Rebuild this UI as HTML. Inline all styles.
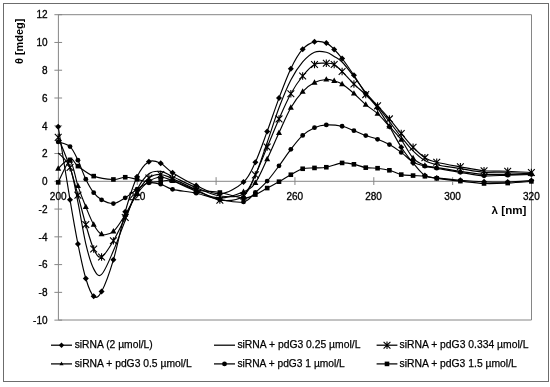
<!DOCTYPE html>
<html><head><meta charset="utf-8"><style>
html,body{margin:0;padding:0;background:#fff;width:550px;height:387px;overflow:hidden;}
svg{display:block;will-change:transform;}
.ast{fill:none;stroke:#000;stroke-width:1.1;}
text{font-family:"Liberation Sans",sans-serif;}
</style></head><body>
<svg width="550" height="387" viewBox="0 0 550 387">
<rect x="3.5" y="3.5" width="545" height="378" fill="#fff" stroke="#6c6c6c" stroke-width="1"/>
<path d="M58.4 14.7H531.5V320.0H58.4Z" fill="none" stroke="#868686" stroke-width="1"/>
<path d="M58.4 181.3H531.5" stroke="#868686" stroke-width="1"/>
<path d="M54.4 320.14H62.1" stroke="#868686" stroke-width="1"/>
<path d="M54.4 292.37H62.1" stroke="#868686" stroke-width="1"/>
<path d="M54.4 264.60H62.1" stroke="#868686" stroke-width="1"/>
<path d="M54.4 236.84H62.1" stroke="#868686" stroke-width="1"/>
<path d="M54.4 209.07H62.1" stroke="#868686" stroke-width="1"/>
<path d="M54.4 181.30H62.1" stroke="#868686" stroke-width="1"/>
<path d="M54.4 153.53H62.1" stroke="#868686" stroke-width="1"/>
<path d="M54.4 125.76H62.1" stroke="#868686" stroke-width="1"/>
<path d="M54.4 98.00H62.1" stroke="#868686" stroke-width="1"/>
<path d="M54.4 70.23H62.1" stroke="#868686" stroke-width="1"/>
<path d="M54.4 42.46H62.1" stroke="#868686" stroke-width="1"/>
<path d="M54.4 14.69H62.1" stroke="#868686" stroke-width="1"/>
<path d="M58.40 177.2V185" stroke="#868686" stroke-width="1"/>
<path d="M137.25 177.2V185" stroke="#868686" stroke-width="1"/>
<path d="M216.10 177.2V185" stroke="#868686" stroke-width="1"/>
<path d="M294.95 177.2V185" stroke="#868686" stroke-width="1"/>
<path d="M373.80 177.2V185" stroke="#868686" stroke-width="1"/>
<path d="M452.65 177.2V185" stroke="#868686" stroke-width="1"/>
<path d="M531.50 177.2V185" stroke="#868686" stroke-width="1"/>
<g font-size="10" fill="#000" stroke="#000" stroke-width="0.3"><text x="47.5" y="323.9" text-anchor="end">-10</text><text x="47.5" y="296.1" text-anchor="end">-8</text><text x="47.5" y="268.3" text-anchor="end">-6</text><text x="47.5" y="240.5" text-anchor="end">-4</text><text x="47.5" y="212.8" text-anchor="end">-2</text><text x="47.5" y="185.0" text-anchor="end">0</text><text x="47.5" y="157.2" text-anchor="end">2</text><text x="47.5" y="129.5" text-anchor="end">4</text><text x="47.5" y="101.7" text-anchor="end">6</text><text x="47.5" y="73.9" text-anchor="end">8</text><text x="47.5" y="46.1" text-anchor="end">10</text><text x="47.5" y="18.4" text-anchor="end">12</text><text x="58.2" y="199.5" text-anchor="middle">200</text><text x="137.1" y="199.5" text-anchor="middle">220</text><text x="294.8" y="199.5" text-anchor="middle">260</text><text x="373.6" y="199.5" text-anchor="middle">280</text><text x="452.5" y="199.5" text-anchor="middle">300</text><text x="531.4" y="199.5" text-anchor="middle">320</text></g>
<text x="491.6" y="213.6" font-weight="bold" font-size="11" textLength="34.8" lengthAdjust="spacingAndGlyphs">λ [nm]</text>
<text transform="translate(22.8 64) rotate(-90)" font-weight="bold" font-size="11" textLength="45.4" lengthAdjust="spacingAndGlyphs">θ [mdeg]</text>
<path d="M58.20 126.69 C60.17 138.89 66.74 180.34 70.03 199.87 C73.31 219.40 75.29 230.79 77.92 243.89 C80.54 256.99 83.17 269.74 85.80 278.46 C88.43 287.19 91.06 294.06 93.69 296.24 C96.32 298.41 98.29 297.58 101.57 291.52 C104.86 285.45 109.46 273.14 113.40 259.86 C117.34 246.57 121.29 225.65 125.23 211.81 C129.17 197.97 133.12 185.17 137.06 176.82 C141.00 168.46 144.95 163.93 148.89 161.68 C152.83 159.44 156.78 161.52 160.72 163.35 C164.66 165.18 166.63 168.95 172.55 172.65 C178.46 176.35 188.32 182.02 196.20 185.57 C204.09 189.11 211.98 194.48 219.86 193.90 C227.75 193.32 237.61 187.37 243.52 182.09 C249.44 176.82 251.41 170.68 255.35 162.24 C259.29 153.79 263.24 142.10 267.18 131.41 C271.12 120.72 275.06 108.54 279.01 98.08 C282.95 87.62 286.89 76.79 290.84 68.65 C294.78 60.50 298.72 53.67 302.67 49.21 C306.61 44.74 310.55 42.86 314.50 41.85 C318.44 40.83 323.04 41.82 326.32 43.10 C329.61 44.37 331.58 46.91 334.21 49.48 C336.84 52.05 338.81 54.20 342.10 58.51 C345.38 62.81 349.98 69.43 353.93 75.31 C357.87 81.19 361.81 88.32 365.75 93.78 C369.70 99.24 373.64 102.62 377.58 108.08 C381.53 113.54 385.47 120.02 389.41 126.55 C393.35 133.08 397.30 141.18 401.24 147.24 C405.18 153.30 409.13 158.21 413.07 162.93 C417.01 167.65 420.96 173.07 424.90 175.57 C428.84 178.07 430.81 177.14 436.73 177.93 C442.64 178.72 452.50 179.64 460.39 180.29 C468.27 180.94 476.16 181.52 484.04 181.82 C491.93 182.12 499.82 182.30 507.70 182.09 C515.59 181.89 527.42 180.82 531.36 180.57" fill="none" stroke="#000" stroke-width="1.15"/>
<path d="M58.20 152.79 C60.17 155.25 66.74 159.27 70.03 167.51 C73.31 175.75 75.29 189.50 77.92 202.23 C80.54 214.96 83.17 232.78 85.80 243.89 C88.43 255.00 91.06 263.79 93.69 268.88 C96.32 273.97 98.29 277.44 101.57 274.44 C104.86 271.43 109.46 259.86 113.40 250.83 C117.34 241.80 121.29 230.46 125.23 220.28 C129.17 210.10 133.12 197.48 137.06 189.73 C141.00 181.98 144.95 176.82 148.89 173.76 C152.83 170.71 156.78 170.94 160.72 171.40 C164.66 171.86 166.63 173.83 172.55 176.54 C178.46 179.25 188.32 184.41 196.20 187.65 C204.09 190.89 211.98 194.94 219.86 195.98 C227.75 197.02 237.61 197.37 243.52 193.90 C249.44 190.43 251.41 183.71 255.35 175.15 C259.29 166.59 263.24 153.74 267.18 142.52 C271.12 131.29 275.06 118.22 279.01 107.80 C282.95 97.39 286.89 87.67 290.84 80.03 C294.78 72.39 298.72 66.61 302.67 61.98 C306.61 57.35 310.55 53.88 314.50 52.26 C318.44 50.64 323.04 51.57 326.32 52.26 C329.61 52.95 331.58 54.81 334.21 56.43 C336.84 58.05 338.81 58.62 342.10 61.98 C345.38 65.34 349.98 71.47 353.93 76.56 C357.87 81.65 361.81 87.55 365.75 92.53 C369.70 97.51 373.64 101.56 377.58 106.42 C381.53 111.28 385.47 116.60 389.41 121.69 C393.35 126.78 397.30 132.10 401.24 136.96 C405.18 141.82 409.13 146.92 413.07 150.85 C417.01 154.79 420.96 158.26 424.90 160.57 C428.84 162.89 430.81 163.39 436.73 164.74 C442.64 166.08 452.50 167.35 460.39 168.62 C468.27 169.90 476.16 171.68 484.04 172.37 C491.93 173.07 499.82 172.56 507.70 172.79 C515.59 173.02 527.42 173.60 531.36 173.76" fill="none" stroke="#000" stroke-width="1.15"/>
<path d="M58.20 137.38 C60.17 142.40 66.74 157.89 70.03 167.51 C73.31 177.14 75.29 185.64 77.92 195.15 C80.54 204.66 83.17 215.61 85.80 224.59 C88.43 233.57 91.06 243.63 93.69 249.02 C96.32 254.42 98.29 258.31 101.57 256.94 C104.86 255.57 109.46 247.40 113.40 240.83 C117.34 234.26 121.29 225.56 125.23 217.50 C129.17 209.45 133.12 199.10 137.06 192.51 C141.00 185.91 144.95 180.94 148.89 177.93 C152.83 174.92 156.78 174.34 160.72 174.46 C164.66 174.57 166.63 176.08 172.55 178.62 C178.46 181.17 188.32 186.14 196.20 189.73 C204.09 193.32 211.98 199.10 219.86 200.15 C227.75 201.19 237.61 200.19 243.52 195.98 C249.44 191.77 251.41 183.02 255.35 174.87 C259.29 166.73 263.24 156.43 267.18 147.10 C271.12 137.77 275.06 127.80 279.01 118.91 C282.95 110.03 286.89 100.93 290.84 93.78 C294.78 86.63 298.72 80.89 302.67 76.01 C306.61 71.12 310.55 66.61 314.50 64.48 C318.44 62.35 323.04 63.23 326.32 63.23 C329.61 63.23 331.58 63.09 334.21 64.48 C336.84 65.87 338.81 68.30 342.10 71.56 C345.38 74.82 349.98 80.22 353.93 84.06 C357.87 87.90 361.81 90.98 365.75 94.61 C369.70 98.25 373.64 101.81 377.58 105.86 C381.53 109.91 385.47 114.31 389.41 118.91 C393.35 123.52 397.30 128.77 401.24 133.49 C405.18 138.21 409.13 143.21 413.07 147.24 C417.01 151.27 420.96 155.16 424.90 157.65 C428.84 160.15 430.81 160.71 436.73 162.24 C442.64 163.76 452.50 165.41 460.39 166.82 C468.27 168.23 476.16 169.97 484.04 170.71 C491.93 171.45 499.82 170.96 507.70 171.26 C515.59 171.56 527.42 172.30 531.36 172.51" fill="none" stroke="#000" stroke-width="1.15"/>
<path d="M58.20 168.62 C60.17 167.28 66.74 157.70 70.03 160.57 C73.31 163.44 75.29 178.14 77.92 185.84 C80.54 193.55 83.17 200.35 85.80 206.81 C88.43 213.27 91.06 220.03 93.69 224.59 C96.32 229.14 98.29 233.03 101.57 234.17 C104.86 235.30 109.46 234.63 113.40 231.39 C117.34 228.15 121.29 220.98 125.23 214.73 C129.17 208.48 133.12 199.45 137.06 193.90 C141.00 188.34 144.95 184.18 148.89 181.40 C152.83 178.62 156.78 177.35 160.72 177.23 C164.66 177.12 166.63 178.39 172.55 180.71 C178.46 183.02 188.32 188.23 196.20 191.12 C204.09 194.01 211.98 197.95 219.86 198.06 C227.75 198.18 237.61 194.36 243.52 191.81 C249.44 189.27 251.41 188.25 255.35 182.79 C259.29 177.33 263.24 167.38 267.18 159.04 C271.12 150.71 275.06 141.36 279.01 132.80 C282.95 124.24 286.89 114.54 290.84 107.67 C294.78 100.79 298.72 95.75 302.67 91.56 C306.61 87.37 310.55 84.55 314.50 82.53 C318.44 80.52 323.04 79.75 326.32 79.48 C329.61 79.20 331.58 80.10 334.21 80.87 C336.84 81.63 338.81 81.95 342.10 84.06 C345.38 86.17 349.98 90.08 353.93 93.50 C357.87 96.93 361.81 101.25 365.75 104.61 C369.70 107.97 373.64 110.00 377.58 113.64 C381.53 117.27 385.47 122.06 389.41 126.41 C393.35 130.76 397.30 134.47 401.24 139.74 C405.18 145.02 409.13 153.79 413.07 158.07 C417.01 162.35 420.96 163.86 424.90 165.43 C428.84 167.00 430.81 166.52 436.73 167.51 C442.64 168.51 452.50 170.24 460.39 171.40 C468.27 172.56 476.16 173.95 484.04 174.46 C491.93 174.97 499.82 174.57 507.70 174.46 C515.59 174.34 527.42 173.88 531.36 173.76" fill="none" stroke="#000" stroke-width="1.15"/>
<path d="M58.20 141.96 C60.17 142.73 66.74 143.51 70.03 146.55 C73.31 149.58 75.29 154.72 77.92 160.15 C80.54 165.59 83.17 173.76 85.80 179.18 C88.43 184.59 91.06 189.20 93.69 192.65 C96.32 196.10 98.29 198.04 101.57 199.87 C104.86 201.70 109.46 203.96 113.40 203.62 C117.34 203.27 121.29 200.19 125.23 197.79 C129.17 195.38 133.12 191.68 137.06 189.18 C141.00 186.68 144.95 183.62 148.89 182.79 C152.83 181.96 156.78 183.09 160.72 184.18 C164.66 185.26 166.63 187.81 172.55 189.32 C178.46 190.82 188.32 191.51 196.20 193.20 C204.09 194.89 211.98 197.99 219.86 199.45 C227.75 200.91 237.61 203.11 243.52 201.95 C249.44 200.79 251.41 195.98 255.35 192.51 C259.29 189.04 263.24 185.57 267.18 181.12 C271.12 176.68 275.06 171.15 279.01 165.85 C282.95 160.55 286.89 154.39 290.84 149.32 C294.78 144.25 298.72 139.05 302.67 135.44 C306.61 131.83 310.55 129.42 314.50 127.66 C318.44 125.90 321.72 125.12 326.32 124.88 C330.92 124.65 337.50 125.30 342.10 126.27 C346.70 127.24 349.98 129.17 353.93 130.72 C357.87 132.27 361.81 134.14 365.75 135.58 C369.70 137.01 373.64 137.82 377.58 139.33 C381.53 140.83 385.47 142.43 389.41 144.60 C393.35 146.78 397.30 149.49 401.24 152.38 C405.18 155.27 409.13 159.67 413.07 161.96 C417.01 164.25 420.96 165.08 424.90 166.13 C428.84 167.17 430.81 167.17 436.73 168.21 C442.64 169.25 452.50 171.10 460.39 172.37 C468.27 173.65 476.16 175.38 484.04 175.85 C491.93 176.31 499.82 175.38 507.70 175.15 C515.59 174.92 527.42 174.57 531.36 174.46" fill="none" stroke="#000" stroke-width="1.15"/>
<path d="M58.20 182.37 C60.17 178.62 66.74 162.58 70.03 159.88 C73.31 157.17 73.97 163.42 77.92 166.13 C81.86 168.83 87.77 173.90 93.69 176.12 C99.60 178.35 108.14 179.27 113.40 179.46 C118.66 179.64 121.29 177.26 125.23 177.23 C129.17 177.21 133.12 178.51 137.06 179.32 C141.00 180.13 144.95 181.75 148.89 182.09 C152.83 182.44 156.78 181.63 160.72 181.40 C164.66 181.17 166.63 179.32 172.55 180.71 C178.46 182.09 188.32 187.76 196.20 189.73 C204.09 191.70 211.98 191.12 219.86 192.51 C227.75 193.90 237.61 197.72 243.52 198.06 C249.44 198.41 251.41 196.26 255.35 194.59 C259.29 192.93 263.24 190.22 267.18 188.07 C271.12 185.91 275.06 183.90 279.01 181.68 C282.95 179.46 286.89 176.89 290.84 174.73 C294.78 172.58 298.72 169.90 302.67 168.76 C306.61 167.63 310.55 168.19 314.50 167.93 C318.44 167.68 321.72 168.07 326.32 167.24 C330.92 166.40 337.50 163.42 342.10 162.93 C346.70 162.45 349.98 163.53 353.93 164.32 C357.87 165.11 361.81 167.00 365.75 167.65 C369.70 168.30 373.64 167.77 377.58 168.21 C381.53 168.65 385.47 169.23 389.41 170.29 C393.35 171.36 397.30 173.72 401.24 174.60 C405.18 175.48 409.13 175.29 413.07 175.57 C417.01 175.85 420.96 175.80 424.90 176.26 C428.84 176.73 430.81 177.54 436.73 178.35 C442.64 179.16 452.50 180.27 460.39 181.12 C468.27 181.98 476.16 183.16 484.04 183.48 C491.93 183.81 499.82 183.41 507.70 183.07 C515.59 182.72 527.42 181.68 531.36 181.40" fill="none" stroke="#000" stroke-width="1.15"/>
<g><path d="M58.20 123.69l3.0 3.0l-3.0 3.0l-3.0 -3.0z"/><path d="M70.03 196.87l3.0 3.0l-3.0 3.0l-3.0 -3.0z"/><path d="M77.92 240.89l3.0 3.0l-3.0 3.0l-3.0 -3.0z"/><path d="M85.80 275.46l3.0 3.0l-3.0 3.0l-3.0 -3.0z"/><path d="M93.69 293.24l3.0 3.0l-3.0 3.0l-3.0 -3.0z"/><path d="M101.57 288.52l3.0 3.0l-3.0 3.0l-3.0 -3.0z"/><path d="M113.40 256.86l3.0 3.0l-3.0 3.0l-3.0 -3.0z"/><path d="M125.23 208.81l3.0 3.0l-3.0 3.0l-3.0 -3.0z"/><path d="M137.06 173.82l3.0 3.0l-3.0 3.0l-3.0 -3.0z"/><path d="M148.89 158.68l3.0 3.0l-3.0 3.0l-3.0 -3.0z"/><path d="M160.72 160.35l3.0 3.0l-3.0 3.0l-3.0 -3.0z"/><path d="M172.55 169.65l3.0 3.0l-3.0 3.0l-3.0 -3.0z"/><path d="M196.20 182.57l3.0 3.0l-3.0 3.0l-3.0 -3.0z"/><path d="M219.86 190.90l3.0 3.0l-3.0 3.0l-3.0 -3.0z"/><path d="M243.52 179.09l3.0 3.0l-3.0 3.0l-3.0 -3.0z"/><path d="M255.35 159.24l3.0 3.0l-3.0 3.0l-3.0 -3.0z"/><path d="M267.18 128.41l3.0 3.0l-3.0 3.0l-3.0 -3.0z"/><path d="M279.01 95.08l3.0 3.0l-3.0 3.0l-3.0 -3.0z"/><path d="M290.84 65.65l3.0 3.0l-3.0 3.0l-3.0 -3.0z"/><path d="M302.67 46.21l3.0 3.0l-3.0 3.0l-3.0 -3.0z"/><path d="M314.50 38.85l3.0 3.0l-3.0 3.0l-3.0 -3.0z"/><path d="M326.32 40.10l3.0 3.0l-3.0 3.0l-3.0 -3.0z"/><path d="M334.21 46.48l3.0 3.0l-3.0 3.0l-3.0 -3.0z"/><path d="M342.10 55.51l3.0 3.0l-3.0 3.0l-3.0 -3.0z"/><path d="M353.93 72.31l3.0 3.0l-3.0 3.0l-3.0 -3.0z"/><path d="M365.75 90.78l3.0 3.0l-3.0 3.0l-3.0 -3.0z"/><path d="M377.58 105.08l3.0 3.0l-3.0 3.0l-3.0 -3.0z"/><path d="M389.41 123.55l3.0 3.0l-3.0 3.0l-3.0 -3.0z"/><path d="M401.24 144.24l3.0 3.0l-3.0 3.0l-3.0 -3.0z"/><path d="M413.07 159.93l3.0 3.0l-3.0 3.0l-3.0 -3.0z"/><path d="M424.90 172.57l3.0 3.0l-3.0 3.0l-3.0 -3.0z"/><path d="M436.73 174.93l3.0 3.0l-3.0 3.0l-3.0 -3.0z"/><path d="M460.39 177.29l3.0 3.0l-3.0 3.0l-3.0 -3.0z"/><path d="M484.04 178.82l3.0 3.0l-3.0 3.0l-3.0 -3.0z"/><path d="M507.70 179.09l3.0 3.0l-3.0 3.0l-3.0 -3.0z"/><path d="M531.36 177.57l3.0 3.0l-3.0 3.0l-3.0 -3.0z"/></g>
<g><path class="ast" d="M54.80 133.98l6.8 6.8M54.80 140.78l6.8 -6.8M58.20 133.68v7.4"/><path class="ast" d="M66.63 164.11l6.8 6.8M66.63 170.91l6.8 -6.8M70.03 163.81v7.4"/><path class="ast" d="M74.52 191.75l6.8 6.8M74.52 198.55l6.8 -6.8M77.92 191.45v7.4"/><path class="ast" d="M82.40 221.19l6.8 6.8M82.40 227.99l6.8 -6.8M85.80 220.89v7.4"/><path class="ast" d="M90.29 245.62l6.8 6.8M90.29 252.42l6.8 -6.8M93.69 245.32v7.4"/><path class="ast" d="M98.17 253.54l6.8 6.8M98.17 260.34l6.8 -6.8M101.57 253.24v7.4"/><path class="ast" d="M110.00 237.43l6.8 6.8M110.00 244.23l6.8 -6.8M113.40 237.13v7.4"/><path class="ast" d="M121.83 214.10l6.8 6.8M121.83 220.90l6.8 -6.8M125.23 213.80v7.4"/><path class="ast" d="M133.66 189.11l6.8 6.8M133.66 195.91l6.8 -6.8M137.06 188.81v7.4"/><path class="ast" d="M145.49 174.53l6.8 6.8M145.49 181.33l6.8 -6.8M148.89 174.23v7.4"/><path class="ast" d="M157.32 171.06l6.8 6.8M157.32 177.86l6.8 -6.8M160.72 170.76v7.4"/><path class="ast" d="M169.15 175.22l6.8 6.8M169.15 182.02l6.8 -6.8M172.55 174.92v7.4"/><path class="ast" d="M192.80 186.33l6.8 6.8M192.80 193.13l6.8 -6.8M196.20 186.03v7.4"/><path class="ast" d="M216.46 196.75l6.8 6.8M216.46 203.55l6.8 -6.8M219.86 196.45v7.4"/><path class="ast" d="M240.12 192.58l6.8 6.8M240.12 199.38l6.8 -6.8M243.52 192.28v7.4"/><path class="ast" d="M251.95 171.47l6.8 6.8M251.95 178.27l6.8 -6.8M255.35 171.17v7.4"/><path class="ast" d="M263.78 143.70l6.8 6.8M263.78 150.50l6.8 -6.8M267.18 143.40v7.4"/><path class="ast" d="M275.61 115.51l6.8 6.8M275.61 122.31l6.8 -6.8M279.01 115.21v7.4"/><path class="ast" d="M287.44 90.38l6.8 6.8M287.44 97.18l6.8 -6.8M290.84 90.08v7.4"/><path class="ast" d="M299.27 72.61l6.8 6.8M299.27 79.41l6.8 -6.8M302.67 72.31v7.4"/><path class="ast" d="M311.10 61.08l6.8 6.8M311.10 67.88l6.8 -6.8M314.50 60.78v7.4"/><path class="ast" d="M322.92 59.83l6.8 6.8M322.92 66.63l6.8 -6.8M326.32 59.53v7.4"/><path class="ast" d="M330.81 61.08l6.8 6.8M330.81 67.88l6.8 -6.8M334.21 60.78v7.4"/><path class="ast" d="M338.70 68.16l6.8 6.8M338.70 74.96l6.8 -6.8M342.10 67.86v7.4"/><path class="ast" d="M350.53 80.66l6.8 6.8M350.53 87.46l6.8 -6.8M353.93 80.36v7.4"/><path class="ast" d="M362.35 91.21l6.8 6.8M362.35 98.01l6.8 -6.8M365.75 90.91v7.4"/><path class="ast" d="M374.18 102.46l6.8 6.8M374.18 109.26l6.8 -6.8M377.58 102.16v7.4"/><path class="ast" d="M386.01 115.51l6.8 6.8M386.01 122.31l6.8 -6.8M389.41 115.21v7.4"/><path class="ast" d="M397.84 130.09l6.8 6.8M397.84 136.89l6.8 -6.8M401.24 129.79v7.4"/><path class="ast" d="M409.67 143.84l6.8 6.8M409.67 150.64l6.8 -6.8M413.07 143.54v7.4"/><path class="ast" d="M421.50 154.25l6.8 6.8M421.50 161.05l6.8 -6.8M424.90 153.95v7.4"/><path class="ast" d="M433.33 158.84l6.8 6.8M433.33 165.64l6.8 -6.8M436.73 158.54v7.4"/><path class="ast" d="M456.99 163.42l6.8 6.8M456.99 170.22l6.8 -6.8M460.39 163.12v7.4"/><path class="ast" d="M480.64 167.31l6.8 6.8M480.64 174.11l6.8 -6.8M484.04 167.01v7.4"/><path class="ast" d="M504.30 167.86l6.8 6.8M504.30 174.66l6.8 -6.8M507.70 167.56v7.4"/><path class="ast" d="M527.96 169.11l6.8 6.8M527.96 175.91l6.8 -6.8M531.36 168.81v7.4"/></g>
<g><path d="M58.20 165.32L61.20 170.72L55.20 170.72z"/><path d="M70.03 157.27L73.03 162.67L67.03 162.67z"/><path d="M77.92 182.54L80.92 187.94L74.92 187.94z"/><path d="M85.80 203.51L88.80 208.91L82.80 208.91z"/><path d="M93.69 221.29L96.69 226.69L90.69 226.69z"/><path d="M101.57 230.87L104.57 236.27L98.57 236.27z"/><path d="M113.40 228.09L116.40 233.49L110.40 233.49z"/><path d="M125.23 211.43L128.23 216.83L122.23 216.83z"/><path d="M137.06 190.60L140.06 196.00L134.06 196.00z"/><path d="M148.89 178.10L151.89 183.50L145.89 183.50z"/><path d="M160.72 173.93L163.72 179.33L157.72 179.33z"/><path d="M172.55 177.41L175.55 182.81L169.55 182.81z"/><path d="M196.20 187.82L199.20 193.22L193.20 193.22z"/><path d="M219.86 194.76L222.86 200.16L216.86 200.16z"/><path d="M243.52 188.51L246.52 193.91L240.52 193.91z"/><path d="M255.35 179.49L258.35 184.89L252.35 184.89z"/><path d="M267.18 155.74L270.18 161.14L264.18 161.14z"/><path d="M279.01 129.50L282.01 134.90L276.01 134.90z"/><path d="M290.84 104.37L293.84 109.77L287.84 109.77z"/><path d="M302.67 88.26L305.67 93.66L299.67 93.66z"/><path d="M314.50 79.23L317.50 84.63L311.50 84.63z"/><path d="M326.32 76.18L329.32 81.58L323.32 81.58z"/><path d="M334.21 77.57L337.21 82.97L331.21 82.97z"/><path d="M342.10 80.76L345.10 86.16L339.10 86.16z"/><path d="M353.93 90.20L356.93 95.60L350.93 95.60z"/><path d="M365.75 101.31L368.75 106.71L362.75 106.71z"/><path d="M377.58 110.34L380.58 115.74L374.58 115.74z"/><path d="M389.41 123.11L392.41 128.51L386.41 128.51z"/><path d="M401.24 136.44L404.24 141.84L398.24 141.84z"/><path d="M413.07 154.77L416.07 160.17L410.07 160.17z"/><path d="M424.90 162.13L427.90 167.53L421.90 167.53z"/><path d="M436.73 164.21L439.73 169.61L433.73 169.61z"/><path d="M460.39 168.10L463.39 173.50L457.39 173.50z"/><path d="M484.04 171.16L487.04 176.56L481.04 176.56z"/><path d="M507.70 171.16L510.70 176.56L504.70 176.56z"/><path d="M531.36 170.46L534.36 175.86L528.36 175.86z"/></g>
<g><circle cx="58.20" cy="141.96" r="2.4"/><circle cx="70.03" cy="146.55" r="2.4"/><circle cx="77.92" cy="160.15" r="2.4"/><circle cx="85.80" cy="179.18" r="2.4"/><circle cx="93.69" cy="192.65" r="2.4"/><circle cx="101.57" cy="199.87" r="2.4"/><circle cx="113.40" cy="203.62" r="2.4"/><circle cx="125.23" cy="197.79" r="2.4"/><circle cx="137.06" cy="189.18" r="2.4"/><circle cx="148.89" cy="182.79" r="2.4"/><circle cx="160.72" cy="184.18" r="2.4"/><circle cx="172.55" cy="189.32" r="2.4"/><circle cx="196.20" cy="193.20" r="2.4"/><circle cx="219.86" cy="199.45" r="2.4"/><circle cx="243.52" cy="201.95" r="2.4"/><circle cx="255.35" cy="192.51" r="2.4"/><circle cx="267.18" cy="181.12" r="2.4"/><circle cx="279.01" cy="165.85" r="2.4"/><circle cx="290.84" cy="149.32" r="2.4"/><circle cx="302.67" cy="135.44" r="2.4"/><circle cx="314.50" cy="127.66" r="2.4"/><circle cx="326.32" cy="124.88" r="2.4"/><circle cx="342.10" cy="126.27" r="2.4"/><circle cx="353.93" cy="130.72" r="2.4"/><circle cx="365.75" cy="135.58" r="2.4"/><circle cx="377.58" cy="139.33" r="2.4"/><circle cx="389.41" cy="144.60" r="2.4"/><circle cx="401.24" cy="152.38" r="2.4"/><circle cx="413.07" cy="161.96" r="2.4"/><circle cx="424.90" cy="166.13" r="2.4"/><circle cx="436.73" cy="168.21" r="2.4"/><circle cx="460.39" cy="172.37" r="2.4"/><circle cx="484.04" cy="175.85" r="2.4"/><circle cx="507.70" cy="175.15" r="2.4"/><circle cx="531.36" cy="174.46" r="2.4"/></g>
<g><rect x="55.90" y="180.07" width="4.6" height="4.6"/><rect x="67.73" y="157.58" width="4.6" height="4.6"/><rect x="75.62" y="163.83" width="4.6" height="4.6"/><rect x="91.39" y="173.82" width="4.6" height="4.6"/><rect x="111.10" y="177.16" width="4.6" height="4.6"/><rect x="122.93" y="174.93" width="4.6" height="4.6"/><rect x="134.76" y="177.02" width="4.6" height="4.6"/><rect x="146.59" y="179.79" width="4.6" height="4.6"/><rect x="158.42" y="179.10" width="4.6" height="4.6"/><rect x="170.25" y="178.41" width="4.6" height="4.6"/><rect x="193.90" y="187.43" width="4.6" height="4.6"/><rect x="217.56" y="190.21" width="4.6" height="4.6"/><rect x="241.22" y="195.76" width="4.6" height="4.6"/><rect x="253.05" y="192.29" width="4.6" height="4.6"/><rect x="264.88" y="185.77" width="4.6" height="4.6"/><rect x="276.71" y="179.38" width="4.6" height="4.6"/><rect x="288.54" y="172.43" width="4.6" height="4.6"/><rect x="300.37" y="166.46" width="4.6" height="4.6"/><rect x="312.19" y="165.63" width="4.6" height="4.6"/><rect x="324.02" y="164.94" width="4.6" height="4.6"/><rect x="339.80" y="160.63" width="4.6" height="4.6"/><rect x="351.62" y="162.02" width="4.6" height="4.6"/><rect x="363.45" y="165.35" width="4.6" height="4.6"/><rect x="375.28" y="165.91" width="4.6" height="4.6"/><rect x="387.11" y="167.99" width="4.6" height="4.6"/><rect x="398.94" y="172.30" width="4.6" height="4.6"/><rect x="410.77" y="173.27" width="4.6" height="4.6"/><rect x="422.60" y="173.96" width="4.6" height="4.6"/><rect x="434.43" y="176.05" width="4.6" height="4.6"/><rect x="458.09" y="178.82" width="4.6" height="4.6"/><rect x="481.74" y="181.18" width="4.6" height="4.6"/><rect x="505.40" y="180.77" width="4.6" height="4.6"/><rect x="529.06" y="179.10" width="4.6" height="4.6"/></g>
<path d="M51.0 345.2H72.0" stroke="#000" stroke-width="1.25"/>
<g><path d="M61.50 342.50l2.7 2.7l-2.7 2.7l-2.7 -2.7z"/></g>
<text x="74.7" y="348.2" font-size="10.8" stroke="#000" stroke-width="0.25" textLength="78.0" lengthAdjust="spacingAndGlyphs">siRNA (2 µmol/L)</text>
<path d="M214.0 345.2H235.0" stroke="#000" stroke-width="1.25"/>
<text x="237.4" y="348.2" font-size="10.8" stroke="#000" stroke-width="0.25" textLength="123.0" lengthAdjust="spacingAndGlyphs">siRNA + pdG3 0.25 µmol/L</text>
<path d="M376.6 345.2H397.4" stroke="#000" stroke-width="1.25"/>
<g><path class="ast" d="M383.60 341.80l6.8 6.8M383.60 348.60l6.8 -6.8M387.00 341.50v7.4"/></g>
<text x="399.5" y="348.2" font-size="10.8" stroke="#000" stroke-width="0.25" textLength="128.9" lengthAdjust="spacingAndGlyphs">siRNA + pdG3 0.334 µmol/L</text>
<path d="M51.0 363.9H72.0" stroke="#000" stroke-width="1.25"/>
<g><path d="M61.50 361.59L63.60 365.37L59.40 365.37z"/></g>
<text x="74.7" y="366.9" font-size="10.8" stroke="#000" stroke-width="0.25" textLength="117.0" lengthAdjust="spacingAndGlyphs">siRNA + pdG3 0.5 µmol/L</text>
<path d="M214.0 363.9H235.0" stroke="#000" stroke-width="1.25"/>
<g><circle cx="224.50" cy="363.90" r="2.4"/></g>
<text x="237.4" y="366.9" font-size="10.8" stroke="#000" stroke-width="0.25" textLength="107.4" lengthAdjust="spacingAndGlyphs">siRNA + pdG3 1 µmol/L</text>
<path d="M376.6 363.9H397.4" stroke="#000" stroke-width="1.25"/>
<g><rect x="384.70" y="361.60" width="4.6" height="4.6"/></g>
<text x="399.5" y="366.9" font-size="10.8" stroke="#000" stroke-width="0.25" textLength="117.3" lengthAdjust="spacingAndGlyphs">siRNA + pdG3 1.5 µmol/L</text>
</svg>
</body></html>
